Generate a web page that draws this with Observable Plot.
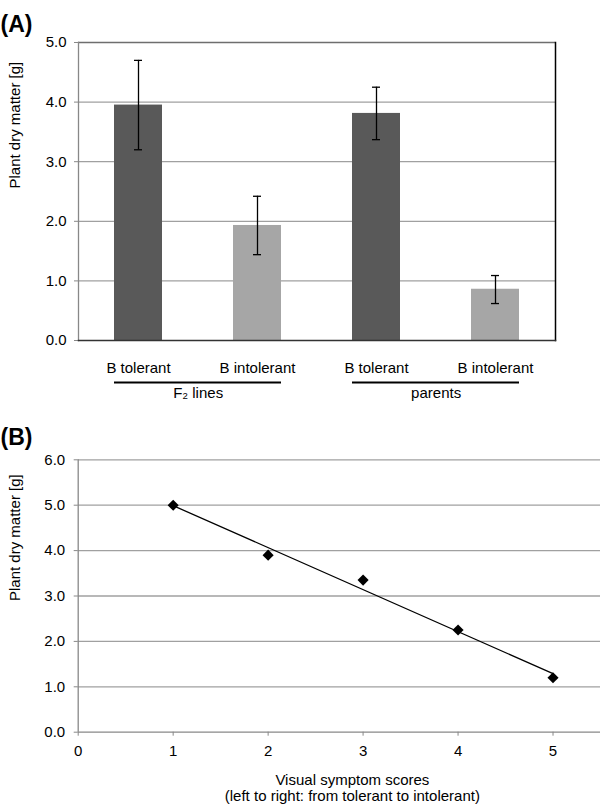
<!DOCTYPE html>
<html><head><meta charset="utf-8">
<script src="https://cdn.jsdelivr.net/npm/d3@7"></script>
<script src="https://cdn.jsdelivr.net/npm/@observablehq/plot@0.6"></script>
<style>body{margin:0;background:#fff} #chart svg{display:block}</style>
</head><body><div id="chart"></div>
<script>
// Panel A data
const groups = ["F₂ lines", "F₂ lines", "parents", "parents"];
const types = ["B tolerant", "B intolerant", "B tolerant", "B intolerant"];
const means = [3.95, 1.93, 3.81, 0.86];
const lower = [3.20, 1.44, 3.37, 0.62];
const upper = [4.70, 2.42, 4.25, 1.09];
const yTicksA = [0, 1, 2, 3, 4, 5];

// Panel B data
const scores = [1, 2, 3, 4, 5];
const dryMatter = [5.0, 3.9, 3.35, 2.25, 1.2];
const yTicksB = [0, 1, 2, 3, 4, 5, 6];
const xTicksB = [0, 1, 2, 3, 4, 5];
const xLabelB = ["Visual symptom scores", "(left to right: from tolerant to intolerant)"];
const yLabel = "Plant dry matter [g]";

const font = {fontFamily: "'Liberation Sans', Arial, sans-serif", fontSize: "15px", background: "#fff", overflow: "visible"};
const grid = "#a0a0a0";
const axisGray = "#888";

const bars = means.map((m, i) => ({key: groups[i] + "|" + types[i], group: groups[i], type: types[i], mean: m, lower: lower[i], upper: upper[i]}));
const groupNames = [...new Set(groups)];
const groupSpans = groupNames.map(g => {
  const ks = bars.filter(d => d.group === g).map(d => d.key);
  return {group: g, first: ks[0], last: ks[ks.length - 1]};
});

const A = {width: 600, height: 420, marginTop: 42, marginLeft: 78, marginRight: 45, marginBottom: 80};
const stepA = (A.width - A.marginLeft - A.marginRight) / bars.length;

const plotA = Plot.plot({
  ...A,
  style: font,
  x: {domain: bars.map(d => d.key), paddingInner: 0.6, paddingOuter: 0.3, axis: null},
  y: {domain: [0, 5], axis: null},
  color: {domain: ["B tolerant", "B intolerant"], range: ["#595959", "#a6a6a6"]},
  marks: [
    Plot.ruleY(yTicksA.filter(v => v > 0 && v < 5), {stroke: grid, strokeWidth: 1.3}),
    Plot.ruleY([5], {stroke: "#6e6e6e", strokeWidth: 1.6}),
    Plot.axisY({ticks: yTicksA, tickFormat: d3.format(".1f"), tickSize: 4, tickPadding: 8, stroke: axisGray, label: null}),
    Plot.barY(bars, {x: "key", y: "mean", fill: "type"}),
    Plot.ruleX(bars, {x: "key", y1: "lower", y2: "upper", stroke: "#000", strokeWidth: 1.3}),
    Plot.tickY(bars, {x: "key", y: "lower", stroke: "#000", strokeWidth: 1.3, inset: 20}),
    Plot.tickY(bars, {x: "key", y: "upper", stroke: "#000", strokeWidth: 1.3, inset: 20}),
    Plot.frame({anchor: "left", stroke: axisGray, strokeWidth: 1.3}),
    Plot.frame({anchor: "right", stroke: "#000", strokeWidth: 1.5}),
    Plot.frame({anchor: "bottom", stroke: "#333", strokeWidth: 1.5}),
    Plot.text(bars, {x: "key", text: "type", frameAnchor: "bottom", dy: 32, fill: "#000"}),
    Plot.ruleY(groupSpans, {x1: "first", x2: "last", y: () => 0, dy: 42, stroke: "#000", strokeWidth: 2}),
    Plot.text(groupSpans, {x: "first", text: "group", frameAnchor: "bottom", dx: stepA / 2, dy: 57, fill: "#000"}),
    Plot.text([yLabel], {frameAnchor: "left", rotate: -90, dx: -63, dy: -3, fill: "#000"}),
    Plot.text(["(A)"], {frameAnchor: "top-left", textAnchor: "start", dx: -78, dy: -27, fontSize: 23, fontWeight: "bold", fill: "#000"})
  ]
});

const points = scores.map((s, i) => ({score: s, dm: dryMatter[i]}));
const B = {width: 600, height: 391, marginTop: 39.3, marginLeft: 77.7, marginRight: 0, marginBottom: 79.3};

const plotB = Plot.plot({
  ...B,
  style: font,
  x: {domain: [0, 5.5], axis: null, label: null},
  y: {domain: [0, 6], axis: null, label: null},
  marks: [
    Plot.ruleY(yTicksB.filter(v => v > 0), {stroke: grid, strokeWidth: 1.3}),
    Plot.ruleY([0], {stroke: axisGray, strokeWidth: 1.3}),
    Plot.ruleX([0], {stroke: axisGray, strokeWidth: 1.3}),
    Plot.axisY({ticks: yTicksB, tickFormat: d3.format(".1f"), tickSize: 4, tickPadding: 9, stroke: axisGray, label: null}),
    Plot.axisX({ticks: xTicksB, tickFormat: d3.format("d"), tickSize: 4, tickPadding: 9, stroke: axisGray, label: null}),
    Plot.linearRegressionY(points, {x: "score", y: "dm", stroke: "#000", strokeWidth: 1.3, ci: 0}),
    Plot.dot(points, {x: "score", y: "dm", symbol: "diamond2", r: 5, fill: "#000", stroke: "none"}),
    Plot.text([xLabelB[0]], {frameAnchor: "bottom", dx: 13, dy: 53, fill: "#000"}),
    Plot.text([xLabelB[1]], {frameAnchor: "bottom", dx: 13, dy: 69, fill: "#000"}),
    Plot.text([yLabel], {frameAnchor: "left", rotate: -90, dx: -63, dy: 5, fill: "#000"}),
    Plot.text(["(B)"], {frameAnchor: "top-left", textAnchor: "start", dx: -77.7, dy: -31, fontSize: 23, fontWeight: "bold", fill: "#000"})
  ]
});

document.getElementById("chart").append(plotA, plotB);
</script>
</body></html>
